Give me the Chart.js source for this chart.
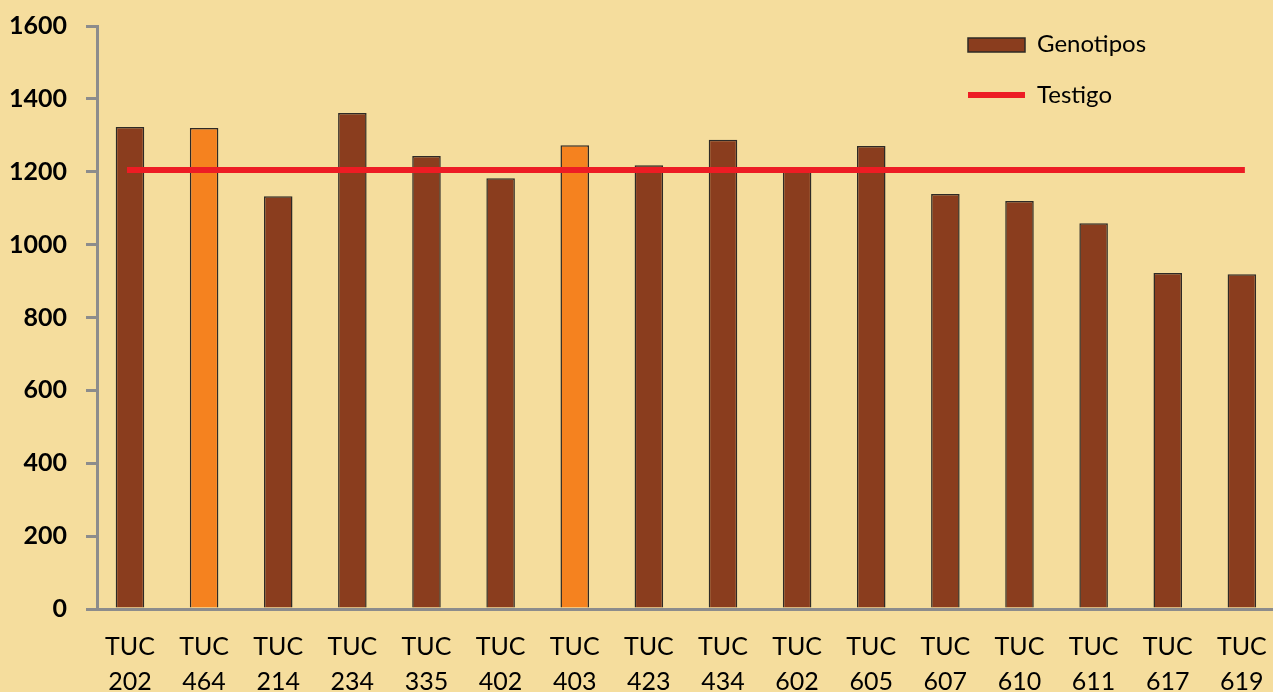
<!DOCTYPE html>
<html lang="es">
<head>
<meta charset="utf-8">
<title>Genotipos TUC</title>
<script src="https://cdn.jsdelivr.net/npm/chart.js@4.4.1/dist/chart.umd.min.js"></script>
<style>
  html, body { margin: 0; padding: 0; background: #F5DD9D; overflow: hidden; }
  #wrap { position: relative; width: 1273px; height: 692px; }
</style>
</head>
<body>
<div id="wrap"><canvas id="chart"></canvas></div>
<script>
// Genotype codes (x tick labels, second line under "TUC")
const codes = ['202', '464', '214', '234', '335', '402', '403', '423', '434', '602', '605', '607', '610', '611', '617', '619'];
// Values per genotype
const genotipos = [1323, 1320, 1133, 1361, 1243, 1182, 1273, 1218, 1288, 1205, 1271, 1139, 1120, 1059, 922, 919];
// Control (testigo) reference value, one per genotype
const testigo = [1205, 1205, 1205, 1205, 1205, 1205, 1205, 1205, 1205, 1205, 1205, 1205, 1205, 1205, 1205, 1205];
// Genotypes drawn in the highlight colour
const destacados = ['464', '403'];
// Y axis range and step
const yMin = 0, yMax = 1600, yStep = 200;

const BROWN = '#8A3D1E';
const ORANGE = '#F5821F';
const RED = '#ED1C24';
const EDGE = '#2E2A26';
const AXIS = '#8C8C8C';
const FONT = 'Lato, "Open Sans", sans-serif';

const barColors = codes.map(c => destacados.includes(c) ? ORANGE : BROWN);

// Legend drawn in the upper right corner of the plot
const legendaInterna = {
  id: 'legendaInterna',
  afterDraw(chart) {
    const ctx = chart.ctx;
    ctx.save();
    ctx.fillStyle = BROWN;
    ctx.fillRect(968, 38, 57, 14);
    ctx.strokeStyle = EDGE;
    ctx.lineWidth = 1.5;
    ctx.strokeRect(968, 38, 57, 14);
    ctx.strokeStyle = RED;
    ctx.lineWidth = 6;
    ctx.beginPath();
    ctx.moveTo(968, 95);
    ctx.lineTo(1025, 95);
    ctx.stroke();
    ctx.fillStyle = '#000';
    ctx.font = '24px ' + FONT;
    ctx.textBaseline = 'middle';
    ctx.textAlign = 'left';
    ctx.fillText('Genotipos', 1037, 44);
    ctx.fillText('Testigo', 1037, 95);
    ctx.restore();
  }
};

new Chart(document.getElementById('chart'), {
  type: 'bar',
  data: {
    datasets: [
      {
        type: 'line',
        label: 'Testigo',
        data: testigo.map((v, i) => ({ x: i, y: v })),
        borderColor: RED,
        borderWidth: 6,
        borderCapStyle: 'square',
        pointRadius: 0,
        fill: false,
        order: 0
      },
      {
        type: 'bar',
        label: 'Genotipos',
        data: genotipos.map((v, i) => ({ x: i, y: v })),
        backgroundColor: barColors,
        borderColor: EDGE,
        borderWidth: 1.5,
        barPercentage: 0.385,
        categoryPercentage: 1,
        order: 1
      }
    ]
  },
  options: {
    responsive: true,
    maintainAspectRatio: false,
    animation: false,
    layout: { padding: { top: 26, right: 0, bottom: 0, left: 0 } },
    plugins: {
      legend: { display: false },
      tooltip: { enabled: false },
      title: { display: false }
    },
    scales: {
      x: {
        type: 'linear',
        offset: false,
        min: -0.445,
        max: 15.42,
        grid: { display: false, drawTicks: false, offset: false },
        border: { display: true, color: AXIS, width: 3 },
        ticks: {
          stepSize: 1,
          includeBounds: false,
          autoSkip: false,
          maxRotation: 0,
          minRotation: 0,
          padding: 20,
          color: '#000',
          font: { family: FONT, size: 25, lineHeight: 1.4 },
          callback: (value) => Number.isInteger(value) && codes[value] ? ['TUC', codes[value]] : ''
        },
        afterFit: (scale) => {
          scale.height = 83;
          scale.paddingLeft = 0;
          scale.paddingRight = 0;
        }
      },
      y: {
        min: yMin,
        max: yMax,
        grid: { drawOnChartArea: false, drawTicks: true, tickLength: 11, color: AXIS, lineWidth: 3 },
        border: { display: true, color: AXIS, width: 3 },
        ticks: {
          stepSize: yStep,
          padding: 19,
          color: '#000',
          font: { family: FONT, size: 25, weight: 'bold' },
          callback: (value) => String(value)
        },
        afterFit: (scale) => {
          scale.width = 97;
          scale.paddingTop = 0;
          scale.paddingBottom = 0;
        }
      }
    }
  },
  plugins: [legendaInterna]
});
</script>
</body>
</html>
